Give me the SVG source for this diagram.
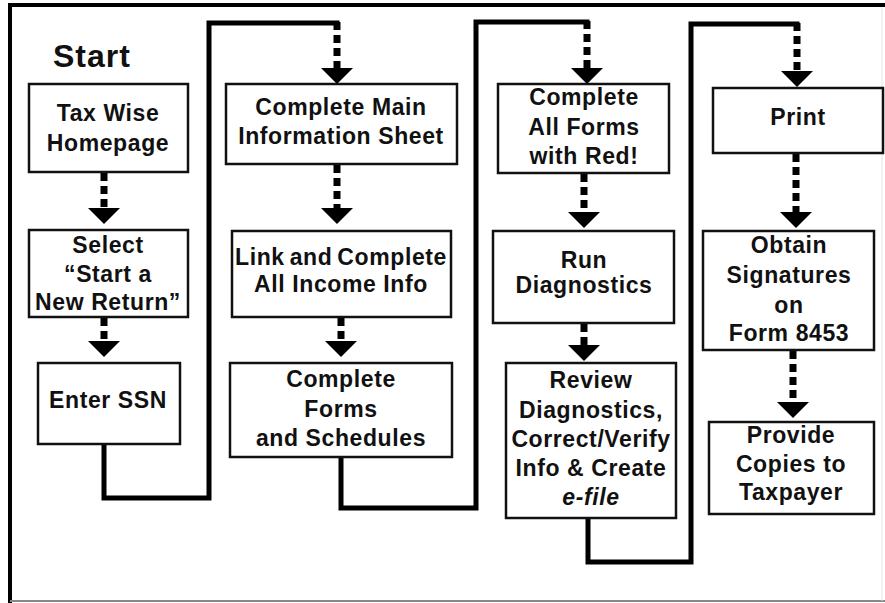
<svg xmlns="http://www.w3.org/2000/svg" width="885" height="603" viewBox="0 0 885 603">
<style>
.box{fill:#fff;stroke:#111;stroke-width:2.5}
.t{font-family:"Liberation Sans",Arial,sans-serif;font-weight:bold;font-size:23px;letter-spacing:0.6px;fill:#111;text-anchor:middle}
.solid{fill:none;stroke:#000;stroke-width:5;stroke-linejoin:miter;stroke-linecap:square}
.dash{fill:none;stroke:#000;stroke-width:7;stroke-dasharray:8 5;marker-end:url(#ah)}
</style>
<defs>
<marker id="ah" markerUnits="userSpaceOnUse" viewBox="0 -16 16 32" refX="0" refY="0" markerWidth="16" markerHeight="32" orient="auto">
<path d="M0,-16 L16,0 L0,16 Z" fill="#000"/>
</marker>
</defs>
<rect x="0" y="0" width="885" height="603" fill="#fff"/>
<g id="frame">
<line x1="8" y1="5" x2="885" y2="5" stroke="#000" stroke-width="4"/>
<line x1="10" y1="5" x2="10" y2="603" stroke="#000" stroke-width="4"/>
<line x1="10" y1="601" x2="885" y2="601" stroke="#888" stroke-width="2"/>
<line x1="882" y1="7" x2="882" y2="601" stroke="#e4e4e4" stroke-width="1"/>
</g>
<text x="53" y="67" style="font-family:'Liberation Sans',Arial,sans-serif;font-weight:bold;font-size:32px;letter-spacing:1px" fill="#111">Start</text>

<g id="connectors">
<path class="solid" d="M104,444 V498 H209 V23 H337"/>
<path class="solid" d="M341,457 V508 H476 V22 H587"/>
<path class="solid" d="M588,518 V562 H691 V24 H797"/>
<line class="dash" x1="337" y1="22" x2="337" y2="68"/>
<line class="dash" x1="587" y1="21" x2="587" y2="68"/>
<line class="dash" x1="797" y1="23" x2="797" y2="71"/>
<line class="dash" x1="104" y1="173" x2="104" y2="208"/>
<line class="dash" x1="104" y1="318" x2="104" y2="341"/>
<line class="dash" x1="337" y1="165" x2="337" y2="208"/>
<line class="dash" x1="341" y1="318" x2="341" y2="341"/>
<line class="dash" x1="584" y1="174" x2="584" y2="212"/>
<line class="dash" x1="584" y1="324" x2="584" y2="345"/>
<line class="dash" x1="796" y1="154" x2="796" y2="212"/>
<line class="dash" x1="793" y1="351" x2="793" y2="402"/>
</g>

<g id="n1"><rect class="box" x="29" y="84" width="159" height="88"/>
<text class="t" x="108" y="121">Tax Wise</text><text class="t" x="108" y="151">Homepage</text></g>
<g id="n2"><rect class="box" x="29" y="230" width="159" height="87"/>
<text class="t" x="108" y="253">Select</text><text class="t" x="108" y="282">“Start a</text><text class="t" x="108" y="310">New Return”</text></g>
<g id="n3"><rect class="box" x="38" y="363" width="142" height="81"/>
<text class="t" x="108" y="408">Enter SSN</text></g>

<g id="n4"><rect class="box" x="226" y="84" width="231" height="80"/>
<text class="t" x="341" y="115">Complete Main</text><text class="t" x="341" y="144">Information Sheet</text></g>
<g id="n5"><rect class="box" x="232" y="231" width="219" height="86"/>
<text class="t" x="341" y="265" letter-spacing="0" word-spacing="-2">Link and Complete</text><text class="t" x="341" y="292">All Income Info</text></g>
<g id="n6"><rect class="box" x="230" y="363" width="222" height="94"/>
<text class="t" x="341" y="387">Complete</text><text class="t" x="341" y="417">Forms</text><text class="t" x="341" y="446">and Schedules</text></g>

<g id="n7"><rect class="box" x="498" y="84" width="171" height="89"/>
<text class="t" x="584" y="105">Complete</text><text class="t" x="584" y="135">All Forms</text><text class="t" x="584" y="164">with Red!</text></g>
<g id="n8"><rect class="box" x="493" y="231" width="181" height="92"/>
<text class="t" x="584" y="268">Run</text><text class="t" x="584" y="293">Diagnostics</text></g>
<g id="n9"><rect class="box" x="506" y="363" width="170" height="155"/>
<text class="t" x="591" y="388">Review</text><text class="t" x="591" y="418">Diagnostics,</text><text class="t" x="591" y="447">Correct/Verify</text><text class="t" x="591" y="476">Info &amp; Create</text><text class="t" x="591" y="505" font-style="italic">e-file</text></g>

<g id="n10"><rect class="box" x="713" y="88" width="170" height="65"/>
<text class="t" x="798" y="125">Print</text></g>
<g id="n11"><rect class="box" x="703" y="231" width="171" height="119"/>
<text class="t" x="789" y="253">Obtain</text><text class="t" x="789" y="283">Signatures</text><text class="t" x="789" y="313">on</text><text class="t" x="789" y="341">Form 8453</text></g>
<g id="n12"><rect class="box" x="709" y="422" width="165" height="92"/>
<text class="t" x="791" y="443">Provide</text><text class="t" x="791" y="472">Copies to</text><text class="t" x="791" y="500">Taxpayer</text></g>
</svg>
